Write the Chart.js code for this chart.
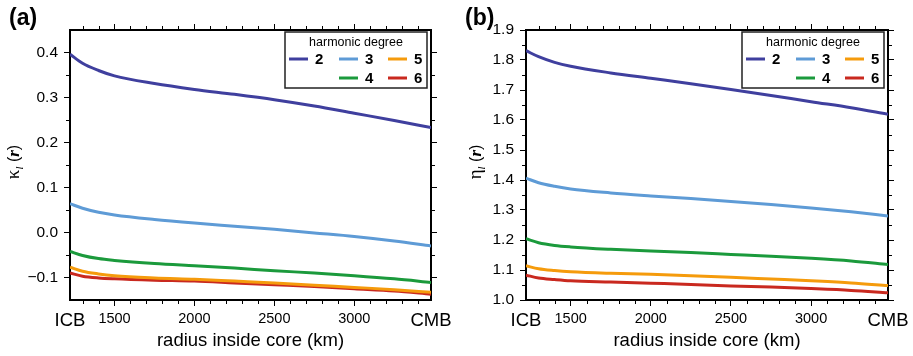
<!DOCTYPE html>
<html>
<head>
<meta charset="utf-8">
<script src="https://cdn.jsdelivr.net/npm/chart.js@4"></script>
<style>
  body { margin: 0; background: #fff; }
  .panel { position: absolute; top: 0; height: 356px; }
  #pa { left: 0; width: 456px; }
  #pb { left: 456px; width: 457px; }
</style>
</head>
<body>
<div class="panel" id="pa"><canvas id="chartA" width="456" height="356"></canvas></div>
<div class="panel" id="pb"><canvas id="chartB" width="457" height="356"></canvas></div>
<script>
// radius inside core (km), ICB = 1221.5, CMB = 3480
const radius = [1221.5, 1300, 1400, 1500, 1750, 2000, 2250, 2500, 2750, 3000, 3250, 3480];
const degrees = ['2', '3', '4', '5', '6'];

// panel (a): kappa_l(r)
const kappa2 = [0.396, 0.376, 0.360, 0.348, 0.331, 0.318, 0.307, 0.295, 0.281, 0.265, 0.249, 0.233];
const kappa3 = [0.064, 0.054, 0.045, 0.039, 0.029, 0.021, 0.014, 0.007, -0.001, -0.009, -0.019, -0.030];
const kappa4 = [-0.042, -0.051, -0.058, -0.062, -0.069, -0.074, -0.079, -0.085, -0.090, -0.096, -0.103, -0.111];
const kappa5 = [-0.077, -0.086, -0.092, -0.096, -0.101, -0.104, -0.108, -0.112, -0.117, -0.122, -0.127, -0.133];
const kappa6 = [-0.090, -0.097, -0.101, -0.103, -0.106, -0.108, -0.112, -0.116, -0.120, -0.125, -0.130, -0.137];

// panel (b): eta_l(r)
const eta2 = [1.831, 1.811, 1.792, 1.779, 1.757, 1.739, 1.721, 1.702, 1.682, 1.661, 1.641, 1.619];
const eta3 = [1.406, 1.391, 1.379, 1.370, 1.357, 1.347, 1.338, 1.328, 1.318, 1.307, 1.294, 1.280];
const eta4 = [1.204, 1.191, 1.182, 1.177, 1.169, 1.163, 1.158, 1.152, 1.146, 1.139, 1.130, 1.118];
const eta5 = [1.114, 1.104, 1.098, 1.094, 1.089, 1.086, 1.081, 1.076, 1.070, 1.064, 1.057, 1.048];
const eta6 = [1.083, 1.073, 1.068, 1.064, 1.060, 1.056, 1.052, 1.047, 1.043, 1.038, 1.032, 1.024];

// tick labels
const radiusTicks = [1221.5, 1500, 2000, 2500, 3000, 3480];
const radiusTickLabels = ['ICB', '1500', '2000', '2500', '3000', 'CMB'];
const kappaTicks = [-0.1, 0.0, 0.1, 0.2, 0.3, 0.4];
const etaTicks = [1.0, 1.1, 1.2, 1.3, 1.4, 1.5, 1.6, 1.7, 1.8, 1.9];

const colors = ['#3f3f9e', '#5e9bd6', '#1b9a3c', '#f59b0c', '#c9291f'];

Chart.defaults.font.family = '"Liberation Sans", Arial, sans-serif';
Chart.defaults.color = '#000';

const FONT = '"Liberation Sans", Arial, sans-serif';

// short unlabelled ticks between the major ones, plus legend, title and panel label
const decorations = {
  id: 'decorations',
  afterDraw(chart, args, opts) {
    const ctx = chart.ctx;
    const { x, y } = chart.scales;
    const area = chart.chartArea;
    ctx.save();

    // minor ticks
    ctx.strokeStyle = '#000';
    ctx.lineWidth = 1;
    ctx.beginPath();
    for (let v = 1300; v < 3480; v += 100) {
      if (v % 500 === 0) continue;
      const px = Math.round(x.getPixelForValue(v)) + 0.5;
      ctx.moveTo(px, area.bottom); ctx.lineTo(px, area.bottom + 4);
      ctx.moveTo(px, area.top); ctx.lineTo(px, area.top - 4);
    }
    const yt = opts.yTicks;
    const half = (yt[1] - yt[0]) / 2;
    const minors = [];
    for (let i = 0; i < yt.length; i++) {
      minors.push(yt[i] + half);
      if (i === 0) minors.push(yt[i] - half);
    }
    minors.forEach(v => {
      if (v <= y.min + 1e-6 || v >= y.max - 1e-6) return;
      const py = Math.round(y.getPixelForValue(v)) + 0.5;
      ctx.moveTo(area.left, py); ctx.lineTo(area.left - 4, py);
      ctx.moveTo(area.right, py); ctx.lineTo(area.right + 4, py);
    });
    ctx.stroke();

    // legend
    const bw = 142, bh = 56;
    const bx = area.right - 4 - bw, by = area.top + 2;
    ctx.fillStyle = '#fff';
    ctx.fillRect(bx, by, bw, bh);
    ctx.strokeStyle = '#222';
    ctx.lineWidth = 1.5;
    ctx.strokeRect(bx, by, bw, bh);
    ctx.fillStyle = '#000';
    ctx.font = '12.5px ' + FONT;
    ctx.textAlign = 'center';
    ctx.textBaseline = 'middle';
    ctx.fillText('harmonic degree', bx + bw / 2, by + 11);
    const slots = [[0, 4], [0, 54], [1, 54], [0, 103], [1, 103]];
    ctx.textAlign = 'left';
    ctx.font = 'bold 15px ' + FONT;
    chart.data.datasets.forEach((ds, i) => {
      const [row, lx] = slots[i];
      const ly = by + 27 + row * 19;
      ctx.strokeStyle = ds.borderColor;
      ctx.lineWidth = 3;
      ctx.beginPath();
      ctx.moveTo(bx + lx, ly); ctx.lineTo(bx + lx + 19, ly);
      ctx.stroke();
      ctx.fillText(ds.label, bx + lx + 26, ly + 1);
    });

    // panel label
    ctx.font = 'bold 23px ' + FONT;
    ctx.textBaseline = 'middle';
    ctx.fillText(opts.panel, 9, 19);

    // y axis title: symbol, italic subscript l, (r) with bold italic r
    const parts = [
      { t: opts.symbol, f: '19px "Liberation Serif", serif', dy: 0 },
      { t: 'l', f: 'italic 11px "Liberation Serif", serif', dy: 4 },
      { t: ' (', f: '16px ' + FONT, dy: 0 },
      { t: 'r', f: 'bold italic 17px "Liberation Serif", serif', dy: 0 },
      { t: ')', f: '16px ' + FONT, dy: 0 }
    ];
    let total = 0;
    parts.forEach(p => { ctx.font = p.f; p.w = ctx.measureText(p.t).width; total += p.w; });
    ctx.translate(opts.titleX, (area.top + area.bottom) / 2 - 3);
    ctx.rotate(-Math.PI / 2);
    ctx.textBaseline = 'alphabetic';
    let cx = -total / 2;
    parts.forEach(p => {
      ctx.font = p.f;
      ctx.fillText(p.t, cx, 6 + p.dy);
      cx += p.w;
    });
    ctx.restore();
  }
};

function fmtY(v) {
  return (v < 0 ? '\u2212' : '') + Math.abs(v).toFixed(1);
}

function makeChart(id, series, yTicks, yMin, yMax, panel, symbol, titleX) {
  const datasets = series.map((s, i) => ({
    label: degrees[i],
    data: radius.map((r, j) => ({ x: r, y: s[j] })),
    borderColor: colors[i],
    borderWidth: 3,
    pointRadius: 0,
    fill: false,
    cubicInterpolationMode: 'monotone'
  }));
  const tickGrid = (len) => ({ drawOnChartArea: false, drawTicks: true, tickLength: len, color: '#000', lineWidth: 1 });
  const frame = { display: true, width: 2, color: '#000' };
  const isEnd = c => c.tick && (c.tick.value === 1221.5 || c.tick.value === 3480);
  return new Chart(document.getElementById(id), {
    type: 'line',
    data: { datasets: datasets },
    options: {
      responsive: false,
      animation: false,
      layout: { padding: 0 },
      plugins: {
        legend: { display: false },
        tooltip: { enabled: false },
        decorations: { yTicks: yTicks, panel: panel, symbol: symbol, titleX: titleX }
      },
      scales: {
        x: {
          type: 'linear', position: 'bottom', min: 1221.5, max: 3480,
          afterBuildTicks: s => { s.ticks = radiusTicks.map(v => ({ value: v })); },
          afterFit: s => { s.height = 56; },
          grid: {
            drawOnChartArea: false, drawTicks: true, tickLength: 6, lineWidth: 1,
            color: c => isEnd(c) ? 'rgba(0,0,0,0)' : '#000'
          },
          border: frame,
          ticks: {
            autoSkip: false, maxRotation: 0, padding: 4,
            callback: (v, i) => radiusTickLabels[i],
            font: c => ({ size: isEnd(c) ? 18.5 : 14.5 })
          },
          title: { display: true, text: 'radius inside core (km)', font: { size: 18.5 }, padding: { top: 4, bottom: 4 } }
        },
        x2: {
          type: 'linear', position: 'top', min: 1221.5, max: 3480,
          afterBuildTicks: s => { s.ticks = radiusTicks.slice(1, -1).map(v => ({ value: v })); },
          afterFit: s => { s.height = 30; },
          grid: tickGrid(6),
          border: frame,
          ticks: { callback: () => '' }
        },
        y: {
          type: 'linear', position: 'left', min: yMin, max: yMax,
          afterBuildTicks: s => { s.ticks = yTicks.map(v => ({ value: v })); },
          afterFit: s => { s.width = 70; },
          grid: tickGrid(6),
          border: frame,
          ticks: { padding: 6, font: { size: 15.5 }, callback: v => fmtY(v) }
        },
        y2: {
          type: 'linear', position: 'right', min: yMin, max: yMax,
          afterBuildTicks: s => { s.ticks = yTicks.map(v => ({ value: v })); },
          afterFit: s => { s.width = 25; },
          grid: tickGrid(6),
          border: frame,
          ticks: { callback: () => '' }
        }
      }
    },
    plugins: [decorations]
  });
}

window.onload = function() {
  makeChart('chartA', [kappa2, kappa3, kappa4, kappa5, kappa6], kappaTicks, -0.15, 0.45, '(a)', '\u03ba', 13);
  makeChart('chartB', [eta2, eta3, eta4, eta5, eta6], etaTicks, 1.0, 1.9, '(b)', '\u03b7', 19);
};
</script>
</body>
</html>
